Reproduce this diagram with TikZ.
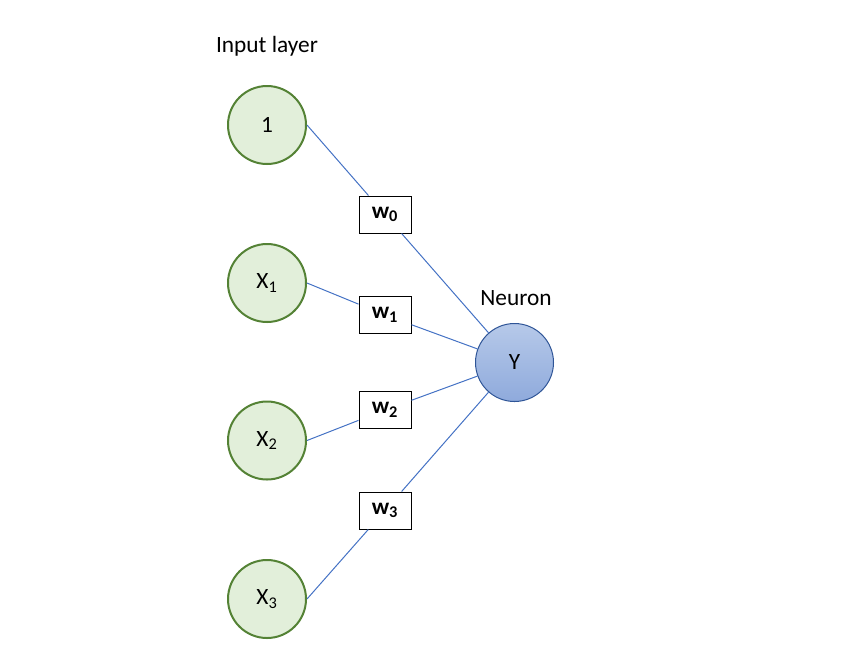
\documentclass[tikz,border=0pt]{standalone}
\usepackage{fontspec}
\setmainfont{Carlito}
\definecolor{inputfill}{RGB}{226,239,218}
\definecolor{inputborder}{RGB}{84,130,53}
\definecolor{neurontop}{RGB}{182,201,233}
\definecolor{neuronbottom}{RGB}{143,170,220}
\definecolor{neuronborder}{RGB}{47,85,151}
\definecolor{wire}{RGB}{68,114,196}

\begin{document}
\begin{tikzpicture}[x=0.75pt,y=-0.75pt,font=\fontsize{17.5}{21}\selectfont,
	inputnode/.style={circle,draw=inputborder,line width=1.5pt,fill=inputfill,minimum size=58.5pt,inner sep=0pt},
	neuronnode/.style={circle,draw=neuronborder,line width=0.75pt,top color=neurontop,bottom color=neuronbottom,minimum size=58.5pt,inner sep=0pt},
	weightbox/.style={rectangle,draw=black,line width=0.75pt,fill=white,minimum width=39pt,minimum height=27.75pt,inner sep=0pt,font=\fontsize{17.5}{21}\selectfont\bfseries},
	wireline/.style={draw=wire,line width=0.75pt}]
	\useasboundingbox (0,0) rectangle (849,669);
\node[anchor=base] (inlabel) at (267,52) {Input layer};
\node[anchor=base] (ylabel) at (516,305) {Neuron};

\node[inputnode] (in0) at (267,125) {1};
\node[inputnode] (in1) at (267,283) {X\textsubscript{1}};
\node[inputnode] (in2) at (267,440.5) {X\textsubscript{2}};
\node[inputnode] (in3) at (267,599) {X\textsubscript{3}};

\node[neuronnode] (Y) at (514.5,362.5) {Y};

\node[weightbox] (w0) at (385,214.5) {w\textsubscript{0}};
\node[weightbox] (w1) at (385,315) {w\textsubscript{1}};
\node[weightbox] (w2) at (385,410) {w\textsubscript{2}};
\node[weightbox] (w3) at (385,510.5) {w\textsubscript{3}};

\draw[wireline] (in0.east) -- (w0) -- (Y);
\draw[wireline] (in1.east) -- (w1) -- (Y);
\draw[wireline] (in2.east) -- (w2) -- (Y);
\draw[wireline] (in3.east) -- (w3) -- (Y);

\end{tikzpicture}
\end{document}
